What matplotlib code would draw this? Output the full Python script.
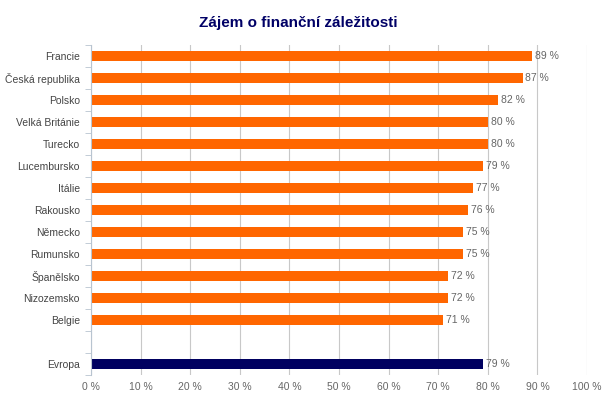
import matplotlib.pyplot as plt

# data
countries = ["Francie", "Česká republika", "Polsko", "Velká Británie", "Turecko",
             "Lucembursko", "Itálie", "Rakousko", "Německo", "Rumunsko",
             "Španělsko", "Nizozemsko", "Belgie"]
values = [89, 87, 82, 80, 80, 79, 77, 76, 75, 75, 72, 72, 71]
europe_label = "Evropa"
europe_value = 79
xticks = [0, 10, 20, 30, 40, 50, 60, 70, 80, 90, 100]

plt.rcParams['font.family'] = ['Liberation Sans', 'DejaVu Sans']

W, H = 606, 398
fig = plt.figure(figsize=(W / 100, H / 100), dpi=100)
ax = fig.add_axes([91 / W, 1 - 375 / H, (587 - 91) / W, (375 - 45) / H])

# slots: countries top to bottom, one empty slot, then Evropa
n = len(countries)
pos = list(range(n + 2))
ypos = pos[:n]
y_eu = pos[-1]

ax.barh(ypos, values, height=0.48, color='#FF6600', zorder=3)
ax.barh([y_eu], [europe_value], height=0.48, color='#000060', zorder=3)

for y, v in zip(ypos + [y_eu], values + [europe_value]):
    ax.text(v + 0.6, y, f"{v} %", va='center', ha='left', fontsize=7.5, color='#666666', zorder=4)

ax.set_ylim(len(pos) - 0.5, -0.5)
ax.set_xlim(0, 100)
ax.set_yticks(ypos + [y_eu])
ax.set_yticklabels(countries + [europe_label], fontsize=7.5, color='#444444')
ax.set_yticks([p + 0.5 for p in [-1] + pos], minor=True)
ax.tick_params(axis='y', which='major', length=0, pad=8)
ax.tick_params(axis='y', which='minor', length=4, color='#b8c4d0', direction='out')

ax.set_xticks(xticks)
ax.set_xticklabels([f"{t} %" for t in xticks], fontsize=7.5, color='#666666')
ax.tick_params(axis='x', length=0, pad=5)
ax.grid(axis='x', color='#c8c8c8', linewidth=0.8, zorder=0)

for s in ['top', 'right', 'bottom']:
    ax.spines[s].set_visible(False)
ax.spines['left'].set_color('#b8c4d0')
ax.spines['left'].set_zorder(5)

fig.text(298 / W, 1 - 23 / H, "Zájem o finanční záležitosti", ha='center', va='center',
         fontsize=11, fontweight='bold', color='#000066')

fig.savefig('out.png', dpi=100)
